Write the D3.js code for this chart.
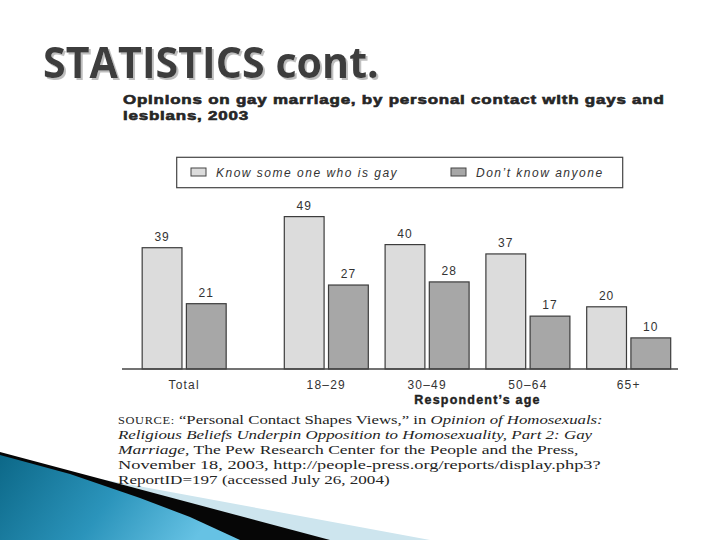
<!DOCTYPE html>
<html><head><meta charset="utf-8">
<script src="https://cdn.jsdelivr.net/npm/d3@7"></script>
<style>body{margin:0;background:#fff}svg{display:block}</style>
</head><body>
<script>
const categories = ["Total", "18–29", "30–49", "50–64", "65+"];
const seriesNames = ["Know some one who is gay", "Don’t know anyone"];
const knowSomeone = [39, 49, 40, 37, 20];
const dontKnow = [21, 27, 28, 17, 10];
const slideTitle = "STATISTICS cont.";
const chartTitle = ["Opinions on gay marriage, by personal contact with gays and", "lesbians, 2003"];
const axisTitle = "Respondent’s age";

const W = 720, H = 540;
const svg = d3.select("body").append("svg").attr("width", W).attr("height", H);
const defs = svg.append("defs");

// decoration bottom-left
const g1 = defs.append("linearGradient").attr("id", "blueg").attr("x1", "0").attr("y1", "0").attr("x2", "1").attr("y2", "0.25");
g1.append("stop").attr("offset", "0").attr("stop-color", "#0c6888");
g1.append("stop").attr("offset", "0.55").attr("stop-color", "#2b94bb");
g1.append("stop").attr("offset", "1").attr("stop-color", "#66c2e4");
svg.append("path").attr("d", "M100,479 L430,540 L100,540 Z").attr("fill", "#cde5ee");
svg.append("path").attr("d", "M0,452 L330,540 L0,540 Z").attr("fill", "#060606");
const swoosh = [[0, 455], [70, 474], [140, 498], [190, 517], [240, 540], [0, 540]];
svg.append("path").attr("d", d3.line().curve(d3.curveLinearClosed)(swoosh)).attr("fill", "url(#blueg)");

// slide title with shadow
const sh = defs.append("filter").attr("id", "tshadow").attr("x", "-5%").attr("y", "-20%").attr("width", "115%").attr("height", "150%");
sh.append("feDropShadow").attr("dx", 2).attr("dy", 2).attr("stdDeviation", 0.4).attr("flood-color", "#bdbdbd").attr("flood-opacity", 1);
const title = svg.append("text")
  .attr("font-family", "'Open Sans', sans-serif").attr("font-weight", 700).attr("font-size", 43)
  .attr("fill", "#3d3d3d").attr("filter", "url(#tshadow)").text(slideTitle);
{
  const w = title.node().getBBox().width;
  title.attr("transform", `translate(43,78) scale(${336 / w},1)`);
}

// chart title
const ctG = svg.append("g");
const ctTexts = ctG.selectAll("text").data(chartTitle).join("text")
  .attr("font-family", "'Liberation Sans', Arial, sans-serif").attr("font-weight", "bold")
  .attr("font-size", 12.8).attr("fill", "#262626")
  .attr("stroke", "#262626").attr("stroke-width", 0.6)
  .attr("letter-spacing", 0.6)
  .text(d => d);
{
  const nodes = ctTexts.nodes();
  const f = 542 / nodes[0].getBBox().width;
  nodes.forEach((n, i) => d3.select(n).attr("transform", `translate(123,${103.5 + i * 16.5}) scale(${f},1)`));
}

// scales
const y = d3.scaleLinear().domain([0, 50]).range([369, 213.5]);
const slot = (c, i) => i === 0 ? -1.41 : i - 1;
const xc = d3.scaleLinear().domain([0, 3]).range([326.3, 628.7]);
const xs = d3.scaleBand().domain(seriesNames).range([-42, 42]).paddingInner(0.1);
const fills = d3.scaleOrdinal().domain(seriesNames).range(["#dcdcdc", "#a7a7a7"]);

const data = categories.map((c, i) => ({ c, center: xc(slot(c, i)), vals: [knowSomeone[i], dontKnow[i]] }));

const groups = svg.append("g").selectAll("g").data(data).join("g")
  .attr("transform", d => `translate(${d.center},0)`);
groups.selectAll("rect").data(d => d.vals.map((v, j) => ({ s: seriesNames[j], v }))).join("rect")
  .attr("x", d => xs(d.s)).attr("width", xs.bandwidth())
  .attr("y", d => y(d.v)).attr("height", d => y(0) - y(d.v))
  .attr("fill", d => fills(d.s)).attr("stroke", "#3c3c3c").attr("stroke-width", 1.2);
groups.selectAll("text.val").data(d => d.vals.map((v, j) => ({ s: seriesNames[j], v }))).join("text")
  .attr("class", "val")
  .attr("x", d => xs(d.s) + xs.bandwidth() / 2).attr("y", d => y(d.v) - 7)
  .attr("text-anchor", "middle").attr("font-family", "'Liberation Sans', Arial, sans-serif")
  .attr("font-size", 12).attr("letter-spacing", 1).attr("fill", "#333")
  .text(d => d.v);

// baseline + category labels
svg.append("line").attr("x1", 122).attr("x2", 678).attr("y1", y(0)).attr("y2", y(0))
  .attr("stroke", "#444").attr("stroke-width", 1.3);
svg.append("g").selectAll("text").data(data).join("text")
  .attr("x", d => d.center).attr("y", 389).attr("text-anchor", "middle")
  .attr("font-family", "'Liberation Sans', Arial, sans-serif").attr("font-size", 12)
  .attr("letter-spacing", 1.2).attr("fill", "#333").text(d => d.c);
svg.append("text").attr("x", (xc(0) + xc(3)) / 2).attr("y", 403.5).attr("text-anchor", "middle")
  .attr("font-family", "'Liberation Sans', Arial, sans-serif").attr("font-weight", "bold")
  .attr("font-size", 12.5).attr("letter-spacing", 1.2).attr("fill", "#222")
  .attr("stroke", "#222").attr("stroke-width", 0.4).text(axisTitle);

// legend
const lg = svg.append("g");
lg.append("rect").attr("x", 176.7).attr("y", 157.3).attr("width", 446).attr("height", 30.4)
  .attr("fill", "none").attr("stroke", "#444").attr("stroke-width", 1.2);
const litems = lg.selectAll("g").data(seriesNames).join("g")
  .attr("transform", (d, i) => `translate(${i === 0 ? 191 : 451},168)`);
litems.append("rect").attr("width", 15).attr("height", 8).attr("fill", d => fills(d))
  .attr("stroke", "#444").attr("stroke-width", 1);
litems.append("text").attr("x", 25).attr("y", 8.5)
  .attr("font-family", "'Liberation Sans', Arial, sans-serif").attr("font-style", "italic")
  .attr("font-size", 12).attr("letter-spacing", 1.5).attr("fill", "#333").text(d => d);

// source
const lines = [
  [["SOURCE:", "sc"], [" “Personal Contact Shapes Views,” in ", "n"], ["Opinion of Homosexuals:", "i"]],
  [["Religious Beliefs Underpin Opposition to Homosexuality, Part 2: Gay", "i"]],
  [["Marriage", "i"], [", The Pew Research Center for the People and the Press,", "n"]],
  [["November 18, 2003, http://people-press.org/reports/display.php3?", "n"]],
  [["ReportID=197 (accessed July 26, 2004)", "n"]]
];
const lineEnds = [603, 594, 580, 601, 390];
const srcG = svg.append("g").attr("font-family", "'Liberation Serif', 'Times New Roman', serif")
  .attr("font-size", 13.5).attr("fill", "#242424");
lines.forEach((ln, li) => {
  const t = srcG.append("text");
  ln.forEach(seg => {
    const s = t.append("tspan").text(seg[0]);
    if (seg[1] === "i") s.attr("font-style", "italic");
    if (seg[1] === "sc") s.attr("font-size", 10).attr("letter-spacing", 0.5);
  });
  const x0 = 118, w = t.node().getBBox().width;
  t.attr("transform", `translate(${x0},${424.3 + li * 14.8}) scale(${(lineEnds[li] - x0) / w},1)`);
});
</script>
</body></html>
